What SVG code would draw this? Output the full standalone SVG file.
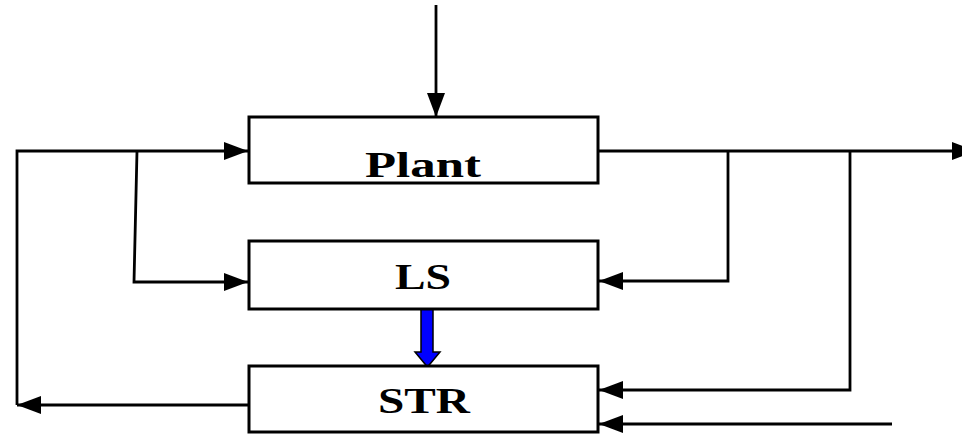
<svg xmlns="http://www.w3.org/2000/svg" width="962" height="434" viewBox="0 0 962 434">
  <defs>
    <marker id="ah" markerUnits="userSpaceOnUse" markerWidth="25" markerHeight="19" refX="24" refY="9" orient="auto" viewBox="0 0 25 19">
      <path d="M0,0 L24,9 L0,18 z" fill="#000"/>
    </marker>
  </defs>
  <style>
    .box { fill: #fff; stroke: #000; stroke-width: 3; }
    .lbl { font-family: "Liberation Serif", "Times New Roman", serif; font-weight: bold; font-size: 36px; fill: #000; text-anchor: middle; }
    .ln { fill: none; stroke: #000; stroke-width: 2.8; stroke-linejoin: miter; }
    .arr { marker-end: url(#ah); }
  </style>
  <rect width="962" height="434" fill="#fff"/>

  <g id="connectors">
    <!-- top input to Plant -->
    <line class="ln arr" x1="436" y1="5" x2="436" y2="117"/>
    <!-- left feedback from STR to Plant -->
    <polyline class="ln arr" points="249,405 17,405"/>
    <polyline class="ln arr" points="17,405 17,151 248,151"/>
    <!-- branch to LS left -->
    <polyline class="ln arr" points="137,151 134,282 248,282"/>
    <!-- Plant output -->
    <line class="ln arr" x1="599" y1="151" x2="976" y2="151"/>
    <!-- branch to LS right -->
    <polyline class="ln arr" points="728,151 728,281 599,281"/>
    <!-- branch to STR right -->
    <polyline class="ln arr" points="850,151 850,390 599,390"/>
    <!-- external input to STR -->
    <line class="ln arr" x1="892" y1="424" x2="599" y2="424"/>
    <!-- blue arrow LS to STR -->
    <polygon points="421,309 433,309 433,352 440,352 427.5,367 415,352 421,352" fill="#0000ff" stroke="#000" stroke-width="1.5" stroke-linejoin="miter"/>
  </g>

  <g id="plant">
    <rect class="box" x="249" y="117" width="349" height="66"/>
    <text class="lbl" x="423" y="177" textLength="116" lengthAdjust="spacingAndGlyphs">Plant</text>
  </g>
  <g id="ls">
    <rect class="box" x="249" y="241" width="349" height="68"/>
    <text class="lbl" x="423" y="289" textLength="56" lengthAdjust="spacingAndGlyphs">LS</text>
  </g>
  <g id="str">
    <rect class="box" x="249" y="366" width="349" height="66"/>
    <text class="lbl" x="424" y="413" textLength="92" lengthAdjust="spacingAndGlyphs">STR</text>
  </g>
</svg>
